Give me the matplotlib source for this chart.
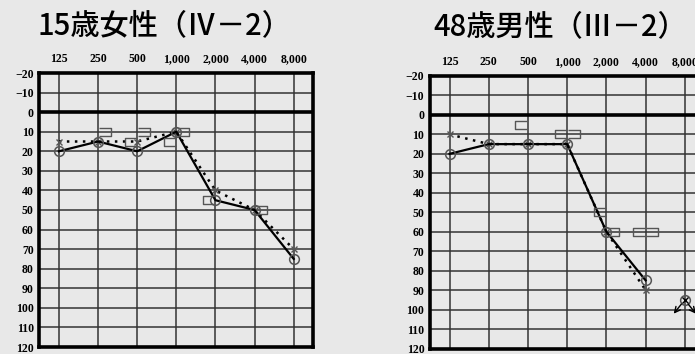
import numpy as np
import matplotlib
matplotlib.use("Agg")
import matplotlib.pyplot as plt
from matplotlib.path import Path

# frequencies (Hz) and dB levels
freq_labels = ["125", "250", "500", "1,000", "2,000", "4,000", "8,000"]
db_ticks = list(range(-20, 121, 10))

# 15歳女性: air conduction (right ○ solid, left × dotted), bone conduction [ ]
f15_right_air = [20, 15, 20, 10, 45, 50, 75]
f15_left_air = [15, 15, 15, 10, 40, 50, 70]
f15_right_bone = [np.nan, np.nan, 15, 15, 45, np.nan, np.nan]
f15_left_bone = [np.nan, 10, 10, 10, np.nan, 50, np.nan]

# 48歳男性: 8,000 Hz is scale-out (no response) at 95 dB
m48_right_air = [20, 15, 15, 15, 60, 85, np.nan]
m48_left_air = [10, 15, 15, 15, 60, 90, np.nan]
m48_right_bone = [np.nan, np.nan, 5, 10, 50, 60, np.nan]
m48_left_bone = [np.nan, np.nan, np.nan, 10, 60, 60, np.nan]
m48_scaleout = [np.nan, np.nan, np.nan, np.nan, np.nan, np.nan, 95]

BG = "#e8e8e8"
MARK = "#555555"
SERIF = "Liberation Serif"
CJK = ["Noto Sans CJK JP", "DejaVu Sans"]

# bracket markers for bone conduction
br_right = Path([(1, 0.8), (-1, 0.8), (-1, -0.8), (1, -0.8)],
                [Path.MOVETO, Path.LINETO, Path.LINETO, Path.LINETO])
br_left = Path([(-1, 0.8), (1, 0.8), (1, -0.8), (-1, -0.8)],
               [Path.MOVETO, Path.LINETO, Path.LINETO, Path.LINETO])


def draw_audiogram(ax, right_air, left_air, right_bone, left_bone, scaleout=None):
    x = np.arange(len(freq_labels))
    ax.set_facecolor(BG)
    ax.set_xlim(-0.5, len(freq_labels) - 0.5)
    ax.set_ylim(120, -20)

    # grid
    for xi in x:
        ax.axvline(xi, color="#333333", lw=1.1, zorder=1)
    for d in db_ticks:
        ax.axhline(d, color="#333333", lw=1.1, zorder=1)
    ax.axhline(0, color="black", lw=2.6, zorder=2)

    ax.plot(x, left_air, color="black", lw=1.8, ls=(0, (1, 2.2)),
            marker="x", ms=5, mec=MARK, mew=1.0, zorder=4)
    ax.plot(x, right_air, color="black", lw=1.6, ls="-",
            marker="o", ms=7, mfc="none", mec=MARK, mew=1.1, zorder=5)
    ax.plot(x - 0.17, right_bone, ls="none", marker=br_right, ms=8,
            mfc="none", mec=MARK, mew=1.0, zorder=5)
    ax.plot(x + 0.17, left_bone, ls="none", marker=br_left, ms=8,
            mfc="none", mec=MARK, mew=1.0, zorder=5)

    if scaleout is not None:
        so = np.array(scaleout, dtype=float)
        ax.plot(x, so, ls="none", marker="o", ms=7, mfc="none",
                mec=MARK, mew=1.1, zorder=5)
        ax.plot(x, so, ls="none", marker="x", ms=5, mec="black",
                mew=1.0, zorder=5)
        for xi, v in zip(x, so):
            if np.isnan(v):
                continue
            for dx in (-8, 8):
                ax.annotate("", xy=(xi, v), xytext=(dx, -10),
                            textcoords="offset points",
                            arrowprops=dict(arrowstyle="<-", color="black",
                                            lw=1.0, shrinkA=0, shrinkB=4),
                            zorder=5)

    ax.xaxis.tick_top()
    ax.set_xticks(x)
    ax.set_xticklabels(freq_labels, fontfamily=SERIF, fontsize=8.5,
                       fontweight="bold")
    ax.set_yticks(db_ticks)
    ax.set_yticklabels([str(d).replace("-", "\u2212") for d in db_ticks],
                       fontfamily=SERIF, fontsize=8.5, fontweight="bold")
    ax.tick_params(length=0, pad=4)
    ax.tick_params(axis="x", pad=6)
    for s in ax.spines.values():
        s.set_linewidth(2.6)
        s.set_color("black")
        s.set_zorder(6)


fig = plt.figure(figsize=(6.95, 3.54), dpi=100, facecolor=BG)

ax1 = fig.add_axes([39.3 / 695, 1 - 347 / 354, 274 / 695, 274 / 354])
draw_audiogram(ax1, f15_right_air, f15_left_air, f15_right_bone, f15_left_bone)

ax2 = fig.add_axes([430 / 695, 1 - 348.5 / 354, 274.4 / 695, 272.5 / 354])
draw_audiogram(ax2, m48_right_air, m48_left_air, m48_right_bone, m48_left_bone,
               scaleout=m48_scaleout)

fig.text(164 / 695, 1 - 26 / 354, "15歳女性（Ⅳ－2）", family=CJK,
         fontsize=21, fontweight="medium", ha="center", va="center")
fig.text(560 / 695, 1 - 27 / 354, "48歳男性（Ⅲ－2）", family=CJK,
         fontsize=21, fontweight="medium", ha="center", va="center")

fig.savefig("out.png", dpi=100, facecolor=BG)
